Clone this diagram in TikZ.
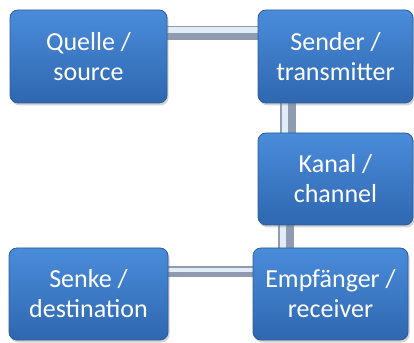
\documentclass[tikz,border=0pt]{standalone}
\usepackage{fontspec}
\setmainfont{Carlito}
\usetikzlibrary{shadows}
\pgfdeclarelayer{background}
\pgfsetlayers{background,main}
\definecolor{boxtop}{HTML}{4A8CDA}
\definecolor{boxbot}{HTML}{2F67B0}
\definecolor{boxline}{HTML}{2A5C9C}
\definecolor{pipedark}{HTML}{8E9BB1}
\definecolor{pipelight}{HTML}{E2ECF7}
\begin{document}
\begin{tikzpicture}[x=1pt,y=1pt,
  blk/.style={rectangle, rounded corners=8pt, draw=boxline, line width=0.8pt,
    top color=boxtop, bottom color=boxbot, text=white, align=center,
    font=\fontsize{26}{30}\selectfont, inner sep=0pt,
    drop shadow={opacity=0.35, shadow xshift=1.5pt, shadow yshift=-2.5pt}},
  pipebase/.style={draw=pipedark, line width=#1},
  pipehi/.style={draw=pipelight, line width=#1}]
\useasboundingbox (0,0) rectangle (414,342);
\node[blk, minimum width=157pt, minimum height=93pt] (Q) at (88.5,285.5) {Quelle /\\source};
\node[blk, minimum width=155pt, minimum height=93pt] (S) at (335.5,285.5) {Sender /\\transmitter};
\node[blk, minimum width=155pt, minimum height=92pt] (K) at (335.5,163) {Kanal /\\channel};
\node[blk, minimum width=155pt, minimum height=92pt] (E) at (330.5,48) {Empfänger /\\receiver};
\node[blk, minimum width=159pt, minimum height=92pt] (D) at (88.5,48) {Senke /\\destination};
\begin{pgfonlayer}{background}
% Quelle - Sender
\draw[pipebase=14pt] ([yshift=23.5pt]Q.east) -- ([yshift=23.5pt]S.west);
\draw[pipehi=6pt] ([yshift=26pt]Q.east) -- ([yshift=26pt]S.west);
% Sender - Kanal
\draw[pipebase=16pt] ([xshift=-47.5pt]S.south) -- ([xshift=-47.5pt]S.south |- K.north);
\draw[pipehi=6pt] ([xshift=-51pt]S.south) -- ([xshift=-51pt]S.south |- K.north);
% Kanal - Empfaenger
\draw[pipebase=16pt] ([xshift=-49.5pt]K.south) -- ([xshift=-49.5pt]K.south |- E.north);
\draw[pipehi=6pt] ([xshift=-53pt]K.south) -- ([xshift=-53pt]K.south |- E.north);
% Senke - Empfaenger
\draw[pipebase=11pt] ([yshift=22pt]D.east) -- ([yshift=22pt]E.west);
\draw[pipehi=4.5pt] ([yshift=24pt]D.east) -- ([yshift=24pt]E.west);
\end{pgfonlayer}
\end{tikzpicture}
\end{document}
